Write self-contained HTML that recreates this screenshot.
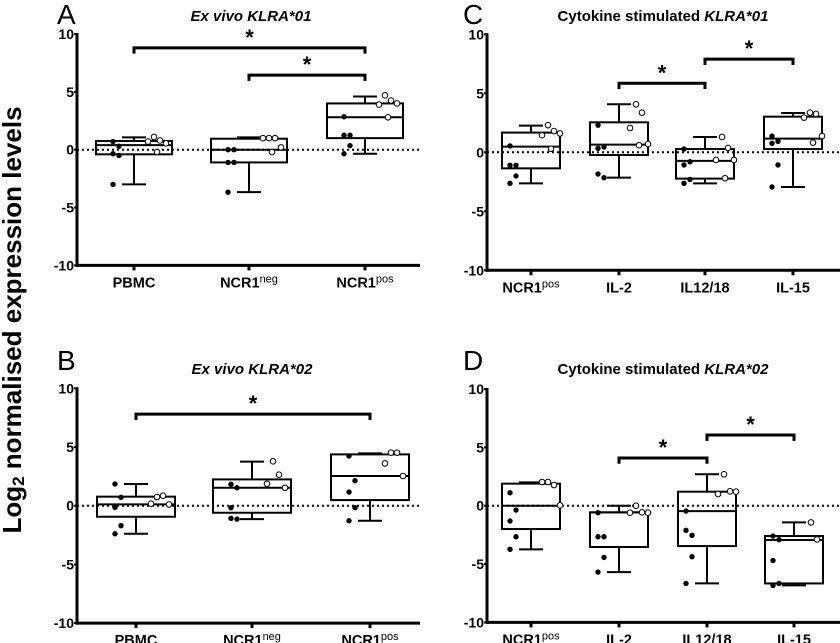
<!DOCTYPE html>
<html><head><meta charset="utf-8"><style>
html,body{margin:0;padding:0;background:#fff}
svg{display:block;font-family:"Liberation Sans",Arial,sans-serif}
</style></head><body>
<svg id="fig" width="840" height="643" viewBox="0 0 840 643" xmlns="http://www.w3.org/2000/svg">
<text x="12" y="320" transform="rotate(-90 12 320)" text-anchor="middle" dominant-baseline="central" font-size="26" font-weight="bold">Log<tspan font-size="17" dy="6">2</tspan><tspan dy="-6"> normalised expression levels</tspan></text>
</svg>
<script>
// ---- Panel A: Ex vivo KLRA*01 ----
const catsA = ["PBMC","NCR1neg","NCR1pos"];
const boxA = [[-3.0,-0.4,0.4,0.75,1.07],[-3.67,-1.1,0,0.95,1.07],[-0.35,1.0,2.8,4.0,4.6]];
const filledA = [[0.7,0.3,-0.35,-0.5,-3.0],[0,0,-1.1,-1.1,-3.67],[2.85,1.25,1.25,0.35,-0.35]];
const openA = [[1.1,0.8,0.7,0.55,-0.2],[1.0,1.0,1.0,0.2,-0.2],[4.7,4.25,3.9,4.0,2.8]];
const sigA = [[0,2,8.8],[1,2,6.45]];
// ---- Panel B: Ex vivo KLRA*02 ----
const catsB = ["PBMC","NCR1neg","NCR1pos"];
const boxB = [[-2.39,-0.94,0.11,0.77,1.85],[-1.14,-0.6,1.53,2.24,3.75],[-1.28,0.48,2.53,4.37,4.46]];
const filledB = [[1.85,0.71,-0.14,-1.7,-2.39],[1.82,1.53,-0.17,-1.14,-1.08],[4.23,2.13,1.16,-0.17,-1.28]];
const openB = [[0.74,0.85,0.17,0.11],[3.78,2.64,1.87,1.53],[4.52,4.52,3.6,2.53]];
const sigB = [[0,2,7.8]];
// ---- Panel C: Cytokine stimulated KLRA*01 ----
const catsC = ["NCR1pos","IL-2","IL12/18","IL-15"];
const boxC = [[-2.63,-1.36,0.48,1.67,2.26],[-2.15,-0.23,0.65,2.54,4.07],[-2.63,-2.23,-0.73,0.28,1.3],[-2.94,0.28,1.16,3.02,3.33]];
const filledC = [[0.54,-1.1,-1.1,-2.0,-2.63],[2.3,0.45,0.34,-2.15,-1.84],[0.28,-0.8,-1.07,-2.3,-2.63],[1.38,0.93,0.76,-1.07,-2.94]];
const openC = [[2.3,1.8,1.45,1.6,0.3],[4.07,3.36,2.06,0.7,0.6],[1.3,0.37,-0.65,-0.65,-2.2],[3.36,3.25,2.94,1.38,0.82]];
const sigC = [[1,2,5.85],[2,3,7.9]];
// ---- Panel D: Cytokine stimulated KLRA*02 ----
const catsD = ["NCR1pos","IL-2","IL12/18","IL-15"];
const boxD = [[-3.74,-2.0,0,1.89,2.0],[-5.69,-3.54,-0.57,-0.57,0],[-6.66,-3.46,-0.46,1.2,2.69],[-6.83,-6.66,-2.94,-2.6,-1.43]];
const filledD = [[1.11,-0.37,-1.31,-2.66,-3.74],[-0.6,-2.66,-2.66,-4.43,-5.69],[-0.46,-2.54,-2.11,-4.37,-6.66],[-2.6,-2.91,-4.69,-6.66,-6.83]];
const openD = [[2.03,1.77,2.03,0.03],[0,-0.57,-0.6,-0.6],[2.69,1.23,1.0,1.2],[-1.43,-2.89]];
const sigD = [[1,2,4.09],[2,3,6.06]];
const yTicks = [10,5,0,-5,-10];

const NS="http://www.w3.org/2000/svg";
const svg=document.getElementById('fig');
function mk(tag,attrs,parent){const e=document.createElementNS(NS,tag);for(const k in attrs)e.setAttribute(k,attrs[k]);(parent||svg).appendChild(e);return e;}

function panel(o){
  const g=mk('g',{});
  
  
  const y=v=>o.y0-(v/10)*(o.y0-o.yTop);
  const x=i=>o.xs[i];
  const L=mk('text',{x:o.lx,y:o.ly,'font-size':28},g);L.textContent=o.letter;
  
  
  const T=mk('text',{x:o.tx,y:o.ty,'font-size':15,'font-weight':'bold','text-anchor':'middle'},g);
  T.innerHTML=o.title;
  
  
  const z=mk('line',{x1:o.ax,x2:o.right,y1:y(0),y2:y(0),stroke:'#000','stroke-width':2,'stroke-dasharray':'2,3'},g);
  
  
  const ya=mk('line',{x1:o.ax,x2:o.ax,y1:y(10)-1,y2:y(-10)+1.5,stroke:'#000','stroke-width':3},g);
  
  
  const xa=mk('line',{x1:o.ax-1.5,x2:o.right,y1:y(-10),y2:y(-10),stroke:'#000','stroke-width':3},g);
  
  
  yTicks.forEach(t=>{
    mk('line',{x1:o.ax-3,x2:o.ax,y1:y(t),y2:y(t),stroke:'#000','stroke-width':2},g);
    const tl=mk('text',{x:o.ax-3,y:y(t)+5,'font-size':14,'font-weight':'bold','text-anchor':'end'},g);
    tl.textContent=t;
    
    
  });
  o.cats.forEach((c,i)=>{
    mk('line',{x1:x(i),x2:x(i),y1:y(-10),y2:y(-10)+5,stroke:'#000','stroke-width':3},g);
    const tl=mk('text',{x:x(i),y:y(-10)+22,'font-size':14.5,'font-weight':'bold','text-anchor':'middle'},g);
    if(c.startsWith('NCR1')&&c.length>4){tl.innerHTML='NCR1<tspan font-size="11" font-weight="normal" dy="-5">'+c.slice(4)+'</tspan>';}
    else tl.textContent=c;
    
    
    const b=o.box[i],hw=o.hw;
    const bg=mk('g',{},g);
    
    
    mk('line',{x1:x(i),x2:x(i),y1:y(b[0]),y2:y(b[1]),stroke:'#000','stroke-width':2},bg);
    mk('line',{x1:x(i),x2:x(i),y1:y(b[3]),y2:y(b[4]),stroke:'#000','stroke-width':2},bg);
    mk('line',{x1:x(i)-12,x2:x(i)+12,y1:y(b[0]),y2:y(b[0]),stroke:'#000','stroke-width':2},bg);
    mk('line',{x1:x(i)-12,x2:x(i)+12,y1:y(b[4]),y2:y(b[4]),stroke:'#000','stroke-width':2},bg);
    mk('rect',{x:x(i)-hw,y:y(b[3]),width:2*hw,height:y(b[1])-y(b[3]),fill:'none',stroke:'#000','stroke-width':2},bg);
    mk('line',{x1:x(i)-hw,x2:x(i)+hw,y1:y(b[2]),y2:y(b[2]),stroke:'#000','stroke-width':2},bg);
    o.filled[i].forEach((v,k)=>{
      const d=mk('circle',{cx:x(i)-o.fo+((k%2)?5:-1),cy:y(v),r:2.7,fill:'#000'},bg);
      
      
    });
    o.open[i].forEach((v,k)=>{
      const d=mk('circle',{cx:x(i)+o.oo+[0,6,-6,12,3][k%5],cy:y(v),r:2.8,fill:'#fff',stroke:'#000','stroke-width':1},bg);
      
      
    });
  });
  o.sig.forEach(s=>{
    const x1=x(s[0]),x2=x(s[1]),yy=y(s[2]),drop=(o.y0-o.yTop)*0.05;
    const p=mk('path',{d:`M${x1},${yy+drop} V${yy} H${x2} V${yy+drop}`,fill:'none',stroke:'#000','stroke-width':3},g);
    
    
    const st=mk('text',{x:(x1+x2)/2,y:yy-3,'font-size':22,'font-weight':'bold','text-anchor':'middle'},g);
    st.textContent='*';
    
    
  });
}
panel({id:'a',letter:'A',lx:57,ly:24,tx:251,ty:21,title:'<tspan font-style="italic">Ex vivo KLRA*01</tspan>',
  ax:77,right:420,y0:149.7,yTop:34,xs:[134,249,365],hw:38,fo:20,oo:20,
  cats:catsA,box:boxA,filled:filledA,open:openA,sig:sigA});
panel({id:'b',letter:'B',lx:57,ly:370,tx:252,ty:374,title:'<tspan font-style="italic">Ex vivo KLRA*02</tspan>',
  ax:77,right:420,y0:505.7,yTop:388.3,xs:[136,252,370],hw:39,fo:20,oo:21,
  cats:catsB,box:boxB,filled:filledB,open:openB,sig:sigB});
panel({id:'c',letter:'C',lx:463,ly:24,tx:663,ty:21,title:'Cytokine stimulated <tspan font-style="italic">KLRA*01</tspan>',
  ax:487,right:840,y0:152.3,yTop:34.3,xs:[531,619,705,793],hw:29,fo:20,oo:17,
  cats:catsC,box:boxC,filled:filledC,open:openC,sig:sigC});
panel({id:'d',letter:'D',lx:463,ly:370,tx:663,ty:374,title:'Cytokine stimulated <tspan font-style="italic">KLRA*02</tspan>',
  ax:487,right:840,y0:505.7,yTop:389,xs:[531,619,707,794],hw:29,fo:20,oo:17,
  cats:catsD,box:boxD,filled:filledD,open:openD,sig:sigD});
</script>
</body></html>
